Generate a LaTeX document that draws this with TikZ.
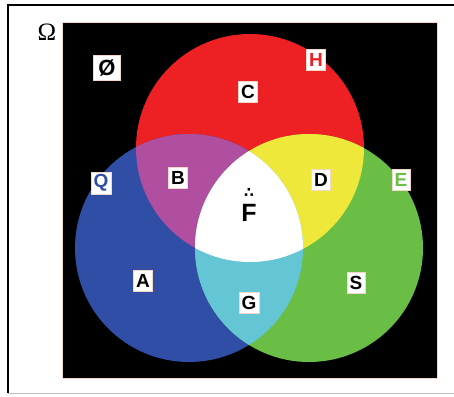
\documentclass[tikz,border=0pt]{standalone}
\usepackage{fontspec}
\setsansfont{Liberation Sans}
\newfontfamily\symfont{DejaVu Sans}
\newfontfamily\omegafont{Liberation Serif}
\usepackage{color}
\definecolor{setred}{RGB}{237,32,36}
\definecolor{setblue}{RGB}{48,78,166}
\definecolor{setgreen}{RGB}{106,189,69}
\definecolor{setmagenta}{RGB}{176,78,160}
\definecolor{setyellow}{RGB}{238,232,58}
\definecolor{setcyan}{RGB}{100,198,212}
\definecolor{rimpink}{RGB}{246,214,200}

\begin{document}
\begin{tikzpicture}[x=1pt,y=-1pt,
      letter/.style={fill=white, draw=rimpink, line width=0.4pt, inner sep=2.5pt, minimum height=21pt,
                     font=\sffamily\bfseries\fontsize{19}{19}\selectfont},
      plain/.style={inner sep=1pt}
    ]
    \useasboundingbox (0,0) rectangle (454,396);
    \fill[white] (0,0) rectangle (454,396);
    \draw[line width=1.3pt] (8,393) -- (8,5) -- (454,5);
    \draw[black!25] (8,393) -- (454,393);
    \fill[black] (62,22) rectangle (437,378);
    \draw[rimpink,line width=0.6pt] (62,22) rectangle (437,378);

    \coordinate (cH) at (250,148);
    \coordinate (cQ) at (189,248);
    \coordinate (cE) at (309,248);

    \fill[setred] (cH) circle (114pt);
    \fill[setblue] (cQ) circle (114pt);
    \fill[setgreen] (cE) circle (114pt);
    \begin{scope}
      \clip (cH) circle (114pt);
      \fill[setmagenta] (cQ) circle (114pt);
      \fill[setyellow] (cE) circle (114pt);
    \end{scope}
    \begin{scope}
      \clip (cQ) circle (114pt);
      \fill[setcyan] (cE) circle (114pt);
    \end{scope}
    \begin{scope}
      \clip (cH) circle (114pt);
      \clip (cQ) circle (114pt);
      \fill[white] (cE) circle (114pt);
    \end{scope}

    \node[plain,font=\omegafont\fontsize{25}{25}\selectfont] (omega) at (47,32) {Ω};
    \node[letter,minimum width=27pt,minimum height=25pt,font=\sffamily\bfseries\fontsize{22}{22}\selectfont] (empty) at (107,68) {Ø};
    \node[letter,text=setred] (H) at (316,60) {H};
    \node[letter] (C) at (248,92) {C};
    \node[letter,text=setblue] (Q) at (101,183) {Q};
    \node[letter] (B) at (178,178) {B};
    \node[letter] (D) at (321,180) {D};
    \node[letter,text=setgreen] (E) at (401,180) {E};
    \node[plain,font=\sffamily\bfseries\fontsize{25}{25}\selectfont] (F) at (249,213) {F};
    \node[plain,font=\symfont\bfseries\fontsize{14}{14}\selectfont] (therefore) at (249,193) {∴};
    \node[letter] (A) at (143,281) {A};
    \node[letter] (G) at (249,303) {G};
    \node[letter] (S) at (356,283) {S};
  \end{tikzpicture}
\end{document}
